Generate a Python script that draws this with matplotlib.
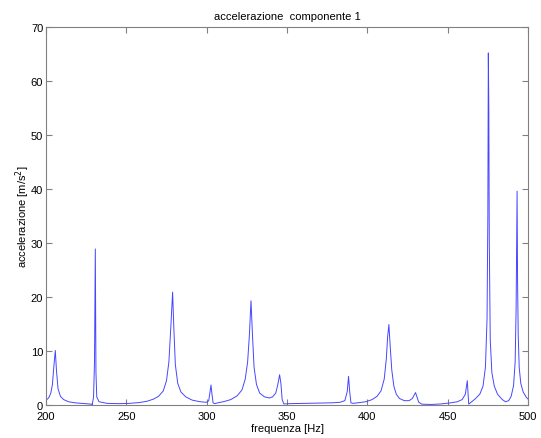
import matplotlib
matplotlib.use("Agg")
import matplotlib.pyplot as plt

plt.rcParams["font.family"] = ["Liberation Sans", "DejaVu Sans"]

# spectrum samples: frequency [Hz] and acceleration amplitude [m/s^2]
freq = [200, 201, 202, 203, 204, 205, 205.8, 206.5, 207.5, 209, 211, 214, 218, 222, 226,
        228.5, 228.8, 229.6, 230.2, 230.7, 231.1, 231.6, 233, 238, 245, 252, 258, 263, 267,
        270, 273, 275, 276.5, 277.8, 278.8, 279.6, 280.5, 282, 284, 287, 291, 296, 300,
        301.3, 302.1, 302.7, 303.3, 304, 305, 307, 311, 315, 319, 322, 324, 325.5, 326.6,
        327.6, 328.5, 329.5, 331, 333, 336, 339, 341, 343, 344.3, 345.4, 346.2, 347, 348,
        352, 360, 370, 378, 383, 386, 387.5, 388.3, 389.0, 389.8, 391, 394, 399, 403, 406,
        408.5, 410.5, 411.8, 412.6, 413.4, 414.2, 415.2, 416.5, 418, 420, 423, 426, 428,
        429.3, 430, 430.8, 432, 434, 440, 446, 452, 456, 459, 461, 462.2, 462.7, 463.1,
        464.5, 467, 470, 472, 473.5, 474.5, 475.0, 475.3, 475.6, 475.9, 476.5, 477.5, 479,
        481, 484, 486, 488, 489.5, 491, 492, 492.6, 493.0, 493.2, 493.5, 493.9, 494.5,
        495.5, 497, 499, 500]
acc = [1.0, 1.1, 1.5, 2.2, 3.8, 7.5, 10.1, 6.5, 3.0, 1.6, 1.0, 0.6, 0.4, 0.3, 0.2,
       0.15, 0.05, 1.5, 8.0, 28.9, 6.0, 1.5, 0.6, 0.3, 0.25, 0.3, 0.45, 0.7, 1.1,
       1.6, 2.6, 4.5, 8.0, 15.0, 20.9, 14.0, 7.5, 4.0, 2.4, 1.5, 0.9, 0.6, 0.5,
       0.8, 2.5, 3.7, 2.0, 0.4, 0.25, 0.4, 0.65, 1.0, 1.7, 2.8, 4.8, 8.0, 13.0,
       19.3, 13.0, 7.0, 3.8, 2.2, 1.5, 1.3, 1.5, 2.2, 3.8, 5.6, 4.0, 1.0, 0.2,
       0.25, 0.3, 0.35, 0.4, 0.5, 0.8, 2.5, 5.3, 2.5, 0.4, 0.3, 0.4, 0.6, 1.0, 1.6,
       2.6, 4.8, 8.5, 12.5, 14.9, 11.0, 6.5, 3.5, 2.0, 1.2, 0.8, 0.8, 1.2,
       1.9, 2.3, 1.6, 0.5, 0.15, 0.1, 0.2, 0.4, 0.6, 1.0, 2.0, 4.5, 2.0, 0.15,
       0.5, 1.1, 2.0, 3.5, 7.0, 16.0, 35.0, 65.2, 55.0, 30.0, 12.0, 6.0, 3.5,
       2.0, 1.0, 0.6, 0.8, 1.6, 3.6, 8.0, 18.0, 34.0, 39.6, 23.0, 13.0, 7.0,
       4.0, 2.4, 1.4, 1.1]

xticks = [200, 250, 300, 350, 400, 450, 500]
yticks = [0, 10, 20, 30, 40, 50, 60, 70]

fig = plt.figure(figsize=(5.41, 4.39), dpi=100)
ax = fig.add_axes([0.085, 0.0752, 0.891, 0.861])
ax.plot(freq, acc, color="#4646ff", lw=0.7)

ax.set_xlim(200, 500)
ax.set_ylim(0, 70)
ax.set_xticks(xticks)
ax.set_yticks(yticks)
ax.tick_params(direction="in", length=4, width=0.8, color="#808080",
               labelsize=8, top=True, right=True)
ax.tick_params(axis="x", pad=4)
ax.tick_params(axis="y", pad=2)
for s in ax.spines.values():
    s.set_color("#808080")
    s.set_linewidth(0.8)

ax.set_title("accelerazione  componente 1", fontsize=8, pad=6)
ax.set_xlabel("frequenza [Hz]", fontsize=8, labelpad=2)
ax.set_ylabel("accelerazione [m/s$^2$]", fontsize=8, labelpad=-1)

fig.savefig("out.png", dpi=100)
